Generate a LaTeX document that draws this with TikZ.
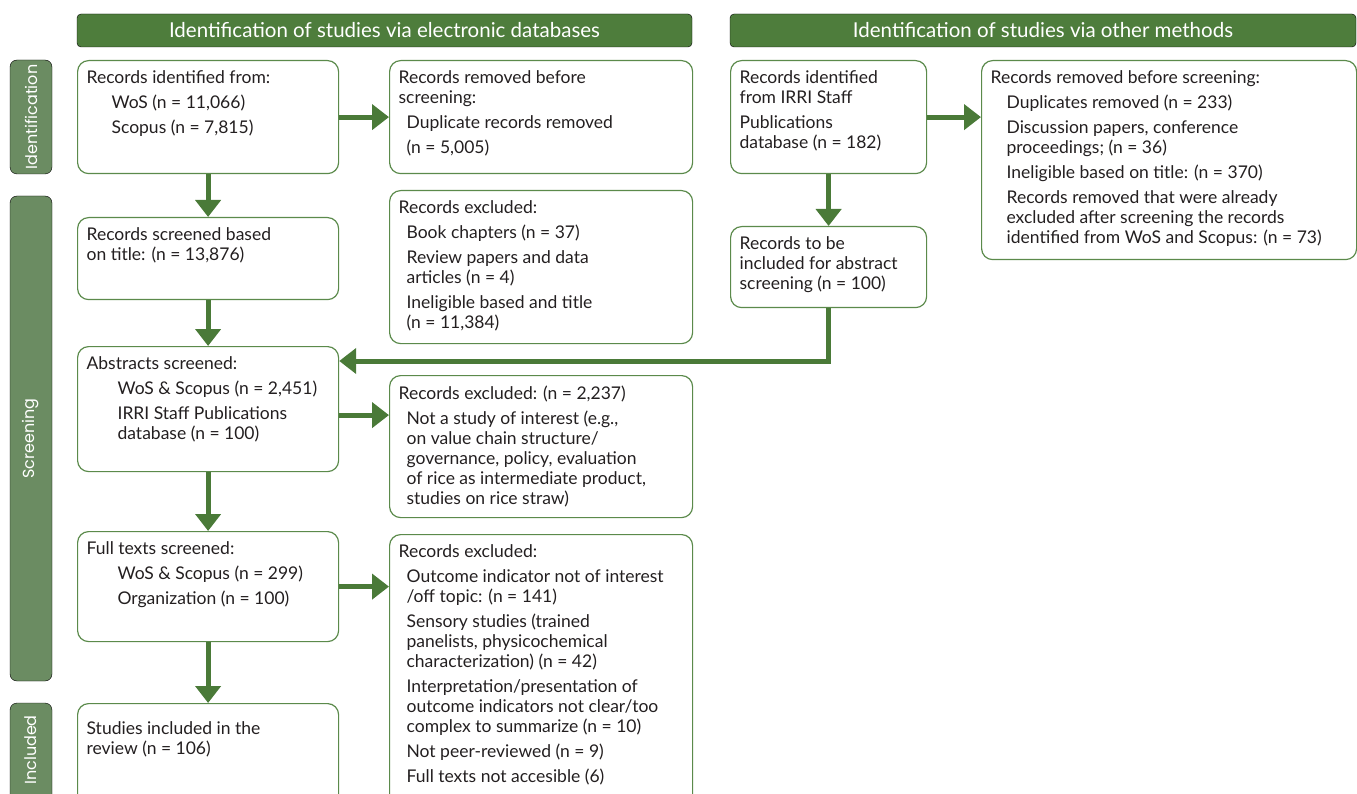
\documentclass[tikz,border=0pt]{standalone}
\usepackage{fontspec}
\setmainfont{Lato}
\newfontfamily\sidefont{Poppins}
\usepackage{tikz}
\usetikzlibrary{arrows.meta, calc, positioning}

\definecolor{headgreen}{HTML}{4E7D3C}
\definecolor{sidegreen}{HTML}{6B8C62}
\definecolor{linegreen}{HTML}{4A7A38}
\definecolor{framegreen}{HTML}{5B8A4B}
\definecolor{txtgray}{HTML}{231F20}

\newcommand{\boxtxt}[3]{\parbox[t][#2][t]{#1}{\raggedright #3}}
\newcommand{\ind}[1]{\hspace*{#1pt}}

\tikzset{
  recbox/.style={draw=framegreen, line width=1.2pt, rounded corners=11pt, anchor=north west,
    inner xsep=9pt, inner ysep=10pt, text=txtgray, font=\fontsize{17.5}{20}\selectfont},
  headbar/.style={fill=headgreen, rounded corners=4pt, text=white, font=\fontsize{20.5}{24}\selectfont},
  sidebar/.style={fill=sidegreen, rounded corners=7pt},
  sidelabel/.style={rotate=90, text=white, font=\sidefont\fontsize{16}{18}\selectfont},
  flow/.style={draw=linegreen, line width=5pt, -{Triangle[width=25pt,length=17pt]}}
}

\begin{document}
\begin{tikzpicture}[x=1pt, y=-1pt]
\clip (0,0) rectangle (1357,794);

\draw[headbar] (77,14) rectangle (692,47) node[midway] (headdb) {Identification of studies via electronic databases};
\draw[headbar] (730,14) rectangle (1356,47) node[midway] (headoth) {Identification of studies via other methods};

\draw[sidebar] (10,60) rectangle (52,174) node[midway, sidelabel] (sideid) {Identification};
\draw[sidebar] (10,196) rectangle (52,681) node[midway, sidelabel] (sidescr) {Screening};
\draw[sidebar] (10,703) rectangle (52,820) node[sidelabel] (sideinc) at (31,750) {Included};

\node[recbox] (recid) at (77,60) {\boxtxt{243pt}{93pt}{Records identified from:\\[5pt]\ind{25}WoS (n = 11,066)\\[5pt]\ind{25}Scopus (n = 7,815)}};
\node[recbox] (remdb) at (389,60) {\boxtxt{285pt}{93pt}{Records removed before\\screening:\\[5pt]\ind{8}Duplicate records removed\\[5pt]\ind{8}(n = 5,005)}};
\node[recbox] (recirri) at (730,60) {\boxtxt{178pt}{93pt}{Records identified\\from IRRI Staff\\[5pt]Publications\\database (n = 182)}};
\node[recbox] (remoth) at (981,60) {\boxtxt{357pt}{179pt}{Records removed before screening:\\[5pt]\ind{16}Duplicates removed (n = 233)\\[5pt]\ind{16}Discussion papers, conference\\\ind{16}proceedings; (n = 36)\\[5pt]\ind{16}Ineligible based on title: (n = 370)\\[5pt]\ind{16}Records removed that were already\\\ind{16}excluded after screening the records\\\ind{16}identified from WoS and Scopus: (n = 73)}};

\node[recbox] (scrtitle) at (77,217) {\boxtxt{243pt}{62pt}{Records screened based\\on title: (n = 13,876)}};
\node[recbox] (exctitle) at (389,190) {\boxtxt{285pt}{133pt}{Records excluded:\\[5pt]\ind{8}Book chapters (n = 37)\\[5pt]\ind{8}Review papers and data\\\ind{8}articles (n = 4)\\[5pt]\ind{8}Ineligible based and title\\\ind{8}(n = 11,384)}};
\node[recbox] (toabs) at (730,226) {\boxtxt{178pt}{61pt}{Records to be\\included for abstract\\screening (n = 100)}};

\node[recbox] (abs) at (77,346) {\boxtxt{243pt}{105pt}{Abstracts screened:\\[5pt]\ind{31}WoS \& Scopus (n = 2,451)\\[5pt]\ind{31}IRRI Staff Publications\\\ind{31}database (n = 100)}};
\node[recbox] (excabs) at (389,375) {\boxtxt{285pt}{122pt}{Records excluded: (n = 2,237)\\[5pt]\ind{8}Not a study of interest (e.g.,\\\ind{8}on value chain structure/\\\ind{8}governance, policy, evaluation\\\ind{8}of rice as intermediate product,\\\ind{8}studies on rice straw)}};

\node[recbox] (full) at (77,531) {\boxtxt{243pt}{90pt}{Full texts screened:\\[5pt]\ind{31}WoS \& Scopus (n = 299)\\[5pt]\ind{31}Organization (n = 100)}};
\node[recbox] (excfull) at (389,534) {\boxtxt{285pt}{256pt}{Records excluded:\\[5pt]\ind{8}Outcome indicator not of interest\\\ind{8}/off topic: (n = 141)\\[5pt]\ind{8}Sensory studies (trained\\\ind{8}panelists, physicochemical\\\ind{8}characterization) (n = 42)\\[5pt]\ind{8}Interpretation/presentation of\\\ind{8}outcome indicators not clear/too\\\ind{8}complex to summarize (n = 10)\\[5pt]\ind{8}Not peer-reviewed (n = 9)\\[5pt]\ind{8}Full texts not accesible (6)}};

\node[recbox] (incl) at (77,703) {\boxtxt{243pt}{96pt}{\vspace*{8pt}Studies included in the\\review (n = 106)}};

\draw[flow] (recid.east) -- (remdb.west);
\draw[flow] (recid.south) -- (scrtitle.north);
\draw[flow] (scrtitle.south) -- (abs.north);
\draw[flow] ([yshift=-6pt]abs.east) -- ([yshift=-6pt]abs.east -| excabs.west);
\draw[flow] (abs.south) -- (full.north);
\draw[flow] (full.east) -- (full.east -| excfull.west);
\draw[flow] (full.south) -- (incl.north);
\draw[flow] (recirri.east) -- (recirri.east -| remoth.west);
\draw[flow] (recirri.south) -- (toabs.north);
\draw[flow] (toabs.south) |- ([yshift=-15pt]abs.north east);

\end{tikzpicture}
\end{document}
